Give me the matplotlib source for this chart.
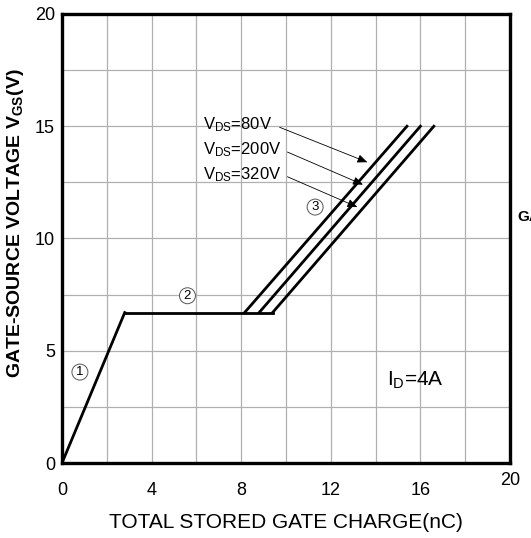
import numpy as np
import matplotlib
matplotlib.use("Agg")
import matplotlib.pyplot as plt
import matplotlib.transforms as mtransforms

plt.rcParams['font.family'] = ['Liberation Sans', 'DejaVu Sans']
plt.rcParams['mathtext.fontset'] = 'custom'
plt.rcParams['mathtext.rm'] = 'Liberation Sans'
plt.rcParams['mathtext.bf'] = 'Liberation Sans:bold'

# gate charge curves (Qg nC, Vgs V)
q_ramp = [0.0, 2.8]
v_ramp = [0.0, 6.7]
plateau_v = 6.7
plateau_end = [8.15, 8.8, 9.4]   # VDS = 80V, 200V, 320V
top_q = [15.4, 16.0, 16.6]
top_v = 15.0
vds_labels = ["80V", "200V", "320V"]
label_pos = [(6.3, 15.05), (6.3, 13.95), (6.3, 12.85)]
arrow_start = [(9.6, 15.0), (9.95, 13.9), (9.95, 12.8)]
arrow_end = [(13.75, 13.35), (13.55, 12.35), (13.3, 11.35)]

fig = plt.figure(figsize=(5.31, 5.38), dpi=100)
ax = fig.add_axes([62 / 531, 75 / 538, 448 / 531, 449 / 538])

ax.set_xlim(0, 20)
ax.set_ylim(0, 20)
ax.set_xticks(np.arange(0, 21, 2))
ax.set_yticks(np.arange(0, 21, 2.5))
ax.grid(True, color='#b0b0b0', lw=0.9)
ax.set_axisbelow(True)
ax.tick_params(length=0, labelsize=13)
ax.tick_params(axis='x', pad=14)
ax.tick_params(axis='y', pad=5)
ax.set_xticklabels([str(int(v)) if v % 4 == 0 else "" for v in np.arange(0, 21, 2)])
ax.set_yticklabels([f"{v:g}" if v % 5 == 0 else "" for v in np.arange(0, 21, 2.5)])
# the "20" at the end of the x axis sits a bit higher in the original
last = ax.get_xticklabels()[-1]
last.set_transform(last.get_transform() + mtransforms.ScaledTranslation(0, 10 / 100, fig.dpi_scale_trans))
for s in ax.spines.values():
    s.set_linewidth(2.4)

# ramp + plateau + rise
ax.plot(q_ramp, v_ramp, color='black', lw=2)
ax.plot([q_ramp[-1], max(plateau_end)], [plateau_v, plateau_v], color='black', lw=2)
for q0, q1 in zip(plateau_end, top_q):
    ax.plot([q0, q1], [plateau_v, top_v], color='black', lw=2)

for lab, p, a0, a1 in zip(vds_labels, label_pos, arrow_start, arrow_end):
    ax.text(p[0], p[1], r"V$\mathregular{_{DS}}$=" + lab, fontsize=12, va='center', ha='left')
    ax.annotate("", xy=a1, xytext=a0,
                arrowprops=dict(arrowstyle='-|>,head_length=0.6,head_width=0.25',
                                color='black', lw=0.6))

circ = dict(boxstyle='circle,pad=0.15', fc='white', ec='#555555', lw=0.7)
ax.text(0.8, 4.05, "1", fontsize=9.5, ha='center', va='center', bbox=circ)
ax.text(5.6, 7.45, "2", fontsize=9.5, ha='center', va='center', bbox=circ)
ax.text(11.3, 11.4, "3", fontsize=9.5, ha='center', va='center', bbox=circ)

ax.text(14.5, 3.7, r"I$\mathregular{_D}$=4A", fontsize=15, va='center', ha='left')

ax.set_xlabel("TOTAL STORED GATE CHARGE(nC)", fontsize=15, labelpad=10)
fig.text(16 / 531, 1 - 223 / 538, r"GATE-SOURCE VOLTAGE V$\mathbf{_{GS}}$(V)",
         fontsize=14, fontweight='bold', rotation=90, ha='center', va='center')

fig.text(517 / 531, 1 - 217 / 538, "GATE", fontsize=11, fontweight='bold', va='center')

fig.savefig("out.png", dpi=100)
